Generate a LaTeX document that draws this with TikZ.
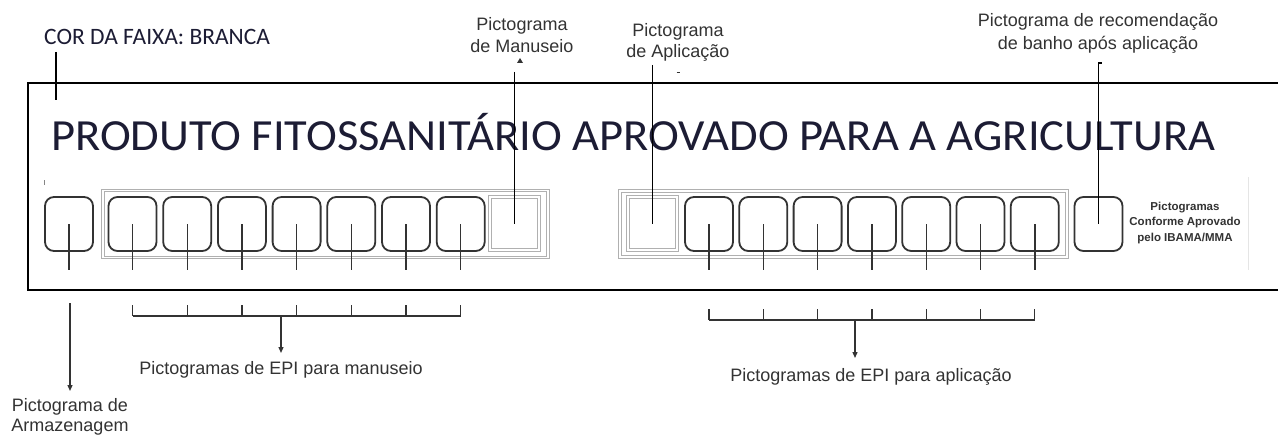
\documentclass[tikz,border=0pt]{standalone}
\usepackage{fontspec}
\usepackage{graphicx}
\setmainfont{Liberation Sans}
\newfontfamily\calibri{Carlito}
\usetikzlibrary{arrows.meta}
\definecolor{ink}{HTML}{333333}
\definecolor{navy}{HTML}{1C1C34}
\definecolor{boxgray}{HTML}{B0B0B0}
\begin{document}
\begin{tikzpicture}[x=1pt,y=-1pt,
  pict/.style={draw=ink, line width=1.8pt, rounded corners=9pt, minimum width=48pt, minimum height=54pt, inner sep=0pt},
  plainsq/.style={draw=boxgray, line width=0.7pt, double=white, double distance=1.8pt, minimum width=49pt, minimum height=53pt, inner sep=0pt},
  grp/.style={draw=boxgray, line width=0.7pt, double=white, double distance=1.8pt, inner sep=0pt},
  stem/.style={draw=ink, line width=1.4pt},
  lbl/.style={font=\fontsize{18}{22}\selectfont, text=ink, align=center, inner sep=0pt},
  ptr/.style={draw=black, line width=1.6pt},
  arr/.style={draw=ink, line width=1.3pt, -{Triangle[length=6pt,width=5pt]}},
  brk/.style={draw=ink, line width=1.3pt}
]
\useasboundingbox (0,0) rectangle (1278,436);
\fill[white] (0,0) rectangle (1278,436);

% frame (band), open on the right: it runs off the page
\draw[black, line width=2.2pt] (1290,83) -- (28,83) -- (28,290) -- (1290,290);

% header text
\node[font=\calibri\fontsize{23.5}{28}\selectfont, text=navy, anchor=base west, inner sep=0pt] (cor) at (44,45) {COR DA FAIXA: BRANCA};
\coordinate (corA) at (56,52);
\coordinate (corB) at (56,100);
\draw[ptr] (corA) -- (corB);

\node[font=\calibri\fontsize{44.5}{50}\selectfont, text=navy, anchor=base west, inner sep=0pt] (title) at (51,150) {\scalebox{1.045}[1]{PRODUTO FITOSSANITÁRIO APROVADO PARA A AGRICULTURA}};

% group boxes
\node[grp, minimum width=445pt, minimum height=67pt] (gman) at (325.5,224) {};
\node[grp, minimum width=447pt, minimum height=66pt] (gapl) at (843.5,224) {};

% storage pictogram
\node[pict] (arm) at (69,224) {};

% handling EPI pictograms
\foreach \i/\x in {1/132.5,2/187.2,3/241.9,4/296.6,5/351.3,6/406.0,7/460.7}
  \node[pict] (m\i) at (\x,224) {};
\node[plainsq] (mansq) at (514.5,223.5) {};

% application pictograms
\node[plainsq] (aplsq) at (652.5,223.5) {};
\foreach \i/\x in {1/709,2/763.3,3/817.6,4/871.9,5/926.2,6/980.5,7/1034.8}
  \node[pict] (a\i) at (\x,224) {};
\node[pict] (banho) at (1098.5,224) {};

% stems
\draw[stem] (arm.center) -- ++(0,46);
\foreach \i in {1,...,7} {
  \draw[stem] (m\i.center) -- ++(0,46);
  \draw[stem] (a\i.center) -- ++(0,46);
}

% IBAMA note
\node[font=\bfseries\fontsize{11.5}{15.5}\selectfont, text=ink, align=center, inner sep=0pt] (ibama) at (1185,223) {Pictogramas\\Conforme Aprovado\\pelo IBAMA/MMA};
\draw[black!10, line width=0.6pt] (1248,177) -- (1248,270);

% top labels and pointers
\node[lbl] (manlbl) at (522,35.5) {Pictograma\\de Manuseio};
\coordinate (manTop) at (514.5,72);
\draw[ptr] (manTop) -- (mansq.center);
\fill[ink] (517,63) -- (523,63) -- (520,58) -- cycle;

\node[lbl, font=\fontsize{18}{21}\selectfont] (apllbl) at (678,42.5) {Pictograma\\de Aplicação};
\coordinate (aplTop) at (652.5,65);
\draw[ptr] (aplTop) -- (aplsq.center);
\draw[ink, line width=1pt] (676.5,73) -- (679.5,73);

\node[lbl, font=\fontsize{18}{23}\selectfont] (banlbl) at (1098,33.5) {Pictograma de recomendação\\de banho após aplicação};
\coordinate (banTop) at (1098.5,63);
\draw[ptr] (1101.5,63) -- (banTop) -- (banho.center);

\draw[ink!60, line width=1pt] (44,180) -- (44,185);

% bottom: storage
\coordinate (armTop) at (70,303);
\node[lbl, font=\fontsize{18}{20}\selectfont] (armlbl) at (70,417) {Pictograma de\\Armazenagem};
\coordinate (armEnd) at (70,391);
\draw[arr] (armTop) -- (armEnd);

% bottom: handling bracket
\foreach \x in {132.5,187.2,241.9,296.6,351.3,406.0,460.7}
  \draw[brk] (\x,305) -- (\x,316);
\draw[brk] (132.5,316) -- (460.7,316);
\coordinate (manB) at (281,316);
\coordinate (manEnd) at (281,353);
\draw[arr] (manB) -- (manEnd);
\node[lbl] (manepi) at (281,370) {Pictogramas de EPI para manuseio};

% bottom: application bracket
\foreach \x in {709,763.3,817.6,871.9,926.2,980.5,1034.8}
  \draw[brk] (\x,309) -- (\x,320);
\draw[brk] (709,320) -- (1034.8,320);
\coordinate (aplB) at (855,320);
\coordinate (aplEnd) at (855,358);
\draw[arr] (aplB) -- (aplEnd);
\node[lbl] (aplepi) at (871,377) {Pictogramas de EPI para aplicação};
\end{tikzpicture}
\end{document}
